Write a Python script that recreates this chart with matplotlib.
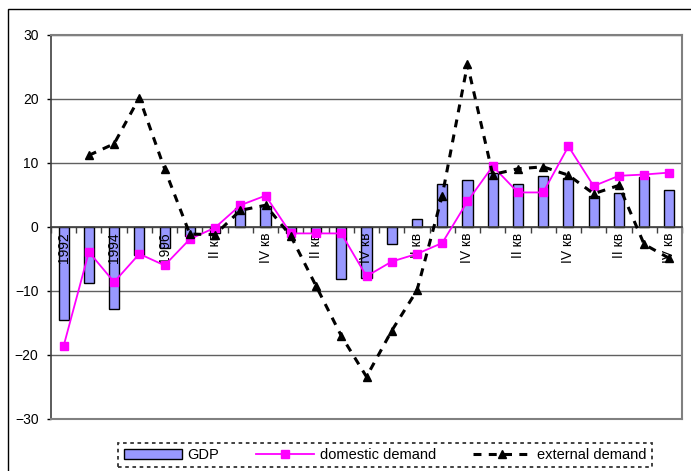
import numpy as np
import matplotlib
matplotlib.use("Agg")
import matplotlib.pyplot as plt
from matplotlib.patches import Rectangle
from matplotlib.lines import Line2D
from matplotlib.patches import Patch

plt.rcParams['font.family'] = ['Liberation Sans', 'DejaVu Sans']
plt.rcParams['font.size'] = 10

# Periods: annual 1992-1996, then quarters 1997-2001
categories = ["1992", "1993", "1994", "1995", "1996"] + \
    ["I кв", "II кв", "III кв", "IV кв"] * 5

gdp = [-14.5, -8.7, -12.8, -4.3, -3.3, -1.4, -1.0, 2.9, 3.3, -1.0,
       -1.0, -8.2, -8.0, -2.7, 1.3, 6.7, 7.3, 8.4, 6.7, 7.9,
       7.6, 4.8, 5.3, 7.8, 5.8]

domestic_demand = [-18.6, -3.9, -8.6, -4.2, -6.0, -1.9, -0.1, 3.4, 4.9, -1.0,
                   -1.0, -1.0, -7.7, -5.4, -4.2, -2.5, 4.0, 9.5, 5.4, 5.4,
                   12.6, 6.4, 8.0, 8.2, 8.5]

external_demand = [np.nan, 11.2, 13.0, 20.2, 9.1, -1.1, -1.2, 2.6, 3.4, -1.4,
                   -9.2, -17.0, -23.4, -16.2, -9.9, 4.9, 25.4, 8.2, 9.1, 9.4,
                   8.1, 5.2, 6.5, -2.7, -4.9]

y_ticks = [-30, -20, -10, 0, 10, 20, 30]

W, H = 691, 471
fig = plt.figure(figsize=(W / 100, H / 100), dpi=100)

# outer chart border
fig.patches.append(Rectangle((8 / W, -0.1), 1.2, 1 - 9 / H + 0.1,
                             transform=fig.transFigure, fill=False,
                             edgecolor='black', linewidth=1.0, zorder=0))

ax = fig.add_axes([51 / W, 1 - 419 / H, (682 - 51) / W, (419 - 35) / H])
x = np.arange(len(categories))

# horizontal gridlines beneath the bars
for yv in y_ticks:
    ax.axhline(yv, color='#606060', linewidth=1.0, zorder=0.5)

ax.bar(x, gdp, width=0.4, color='#9999FF', edgecolor='black',
       linewidth=1.0, zorder=1, label='GDP')
ax.plot(x, domestic_demand, color='#FF00FF', linewidth=1.3, marker='s',
        markersize=6, markerfacecolor='#FF00FF', markeredgecolor='#FF00FF',
        zorder=3, label='domestic demand')
ax.plot(x, external_demand, color='black', linewidth=2.2,
        linestyle=(0, (2.6, 2.4)), marker='^', markersize=6,
        markerfacecolor='black', markeredgecolor='black', zorder=4,
        label='external demand')

ax.set_xlim(-0.5, len(categories) - 0.5)
ax.set_ylim(-30, 30)

# plot-area frame
for side in ['top', 'right']:
    ax.spines[side].set_color('#808080')
    ax.spines[side].set_linewidth(1.5)
ax.spines['left'].set_color('#404040')
ax.spines['left'].set_linewidth(1.2)
ax.spines['bottom'].set_position(('data', 0))
ax.spines['bottom'].set_color('#404040')
ax.spines['bottom'].set_linewidth(1.2)
ax.add_line(Line2D([0, 1], [0, 0], transform=ax.transAxes,
                   color='#808080', linewidth=1.5, clip_on=False, zorder=3))

ax.set_yticks(y_ticks)
ax.tick_params(axis='y', length=3, width=1, pad=6, labelsize=10)

# category boundaries carry tick marks; labels sit on every other period
ax.set_xticks(np.arange(len(categories) + 1) - 0.5)
ax.set_xticklabels([])
ax.tick_params(axis='x', which='major', length=4, width=1, direction='out',
               color='#404040')
label_pos = x[::2]
ax.set_xticks(label_pos, minor=True)
ax.set_xticklabels([categories[i] for i in label_pos], minor=True,
                   rotation=90, fontsize=10)
ax.tick_params(axis='x', which='minor', length=0, pad=4)

handles = [Patch(facecolor='#9999FF', edgecolor='black', linewidth=1.0),
           Line2D([], [], color='#FF00FF', linewidth=1.3, marker='s',
                  markersize=6),
           Line2D([], [], color='black', linewidth=2.2,
                  linestyle=(0, (2.6, 2.4)), marker='^', markersize=6)]
leg = fig.legend(handles, ['GDP', 'domestic demand', 'external demand'],
                 loc='center', bbox_to_anchor=(385 / W, 1 - 455 / H),
                 ncol=3, frameon=True, fancybox=False, handlelength=4,
                 handleheight=0.7, columnspacing=2.5, handletextpad=0.4,
                 borderpad=0.35, fontsize=10.5)
frame = leg.get_frame()
frame.set_edgecolor('black')
frame.set_linewidth(1.3)
frame.set_linestyle((0, (2, 2)))

fig.savefig('out.png', dpi=100)
